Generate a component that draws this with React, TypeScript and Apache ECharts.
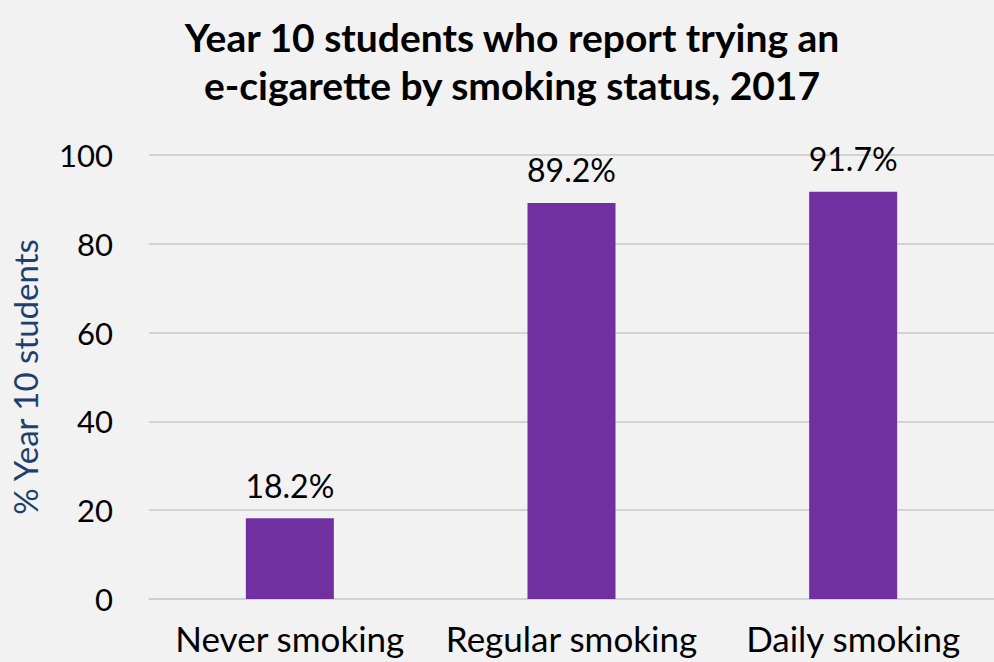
import React, { useEffect, useRef } from "react";
import * as echarts from "echarts";

const categories = ["Never smoking", "Regular smoking", "Daily smoking"];
const values = [18.2, 89.2, 91.7];
const titleLines = ["Year 10 students who report trying an", "e-cigarette by smoking status, 2017"];
const yAxisName = "% Year 10 students";

const FONT = "Lato, 'Open Sans', sans-serif";

export default function App() {
  const ref = useRef<HTMLDivElement>(null);
  useEffect(() => {
    if (!ref.current) return;
    const chart = echarts.init(ref.current, null, { renderer: "svg" });
    chart.setOption({
      animation: false,
      backgroundColor: "#f2f2f2",
      title: {
        text: titleLines.join("\n"),
        left: 507,
        textAlign: "center",
        top: 8,
        textStyle: {
          fontFamily: FONT,
          fontSize: 39,
          fontWeight: "bold",
          color: "#000000",
          lineHeight: 48,
        },
      },
      grid: { left: 148, right: 0, top: 155, bottom: 63 },
      xAxis: {
        type: "category",
        data: categories,
        axisLine: { show: true, lineStyle: { color: "#d0d0d0", width: 1.5 } },
        axisTick: { show: false },
        axisLabel: {
          fontFamily: FONT,
          fontSize: 35,
          lineHeight: 34,
          color: "#000000",
          margin: 22,
          interval: 0,
          hideOverlap: false,
        },
      },
      yAxis: {
        type: "value",
        min: 0,
        max: 100,
        interval: 20,
        name: yAxisName,
        nameLocation: "middle",
        nameGap: 108,
        nameTextStyle: { fontFamily: FONT, fontSize: 33, color: "#1f3f6e" },
        axisLine: { show: false },
        axisTick: { show: false },
        axisLabel: { fontFamily: FONT, fontSize: 31, color: "#000000", margin: 36 },
        splitLine: { lineStyle: { color: "#c8c8c8", width: 1.5 } },
      },
      series: [
        {
          type: "bar",
          data: values,
          barWidth: 88,
          itemStyle: { color: "#7030a0" },
          label: {
            show: true,
            position: "top",
            distance: 17,
            formatter: (p: any) => p.value.toFixed(1) + "%",
            fontFamily: FONT,
            fontSize: 32,
            color: "#000000",
          },
        },
      ],
    });
    return () => chart.dispose();
  }, []);
  return (
    <div
      ref={ref}
      style={{ position: "fixed", left: 0, top: 0, width: 994, height: 662 }}
    />
  );
}
